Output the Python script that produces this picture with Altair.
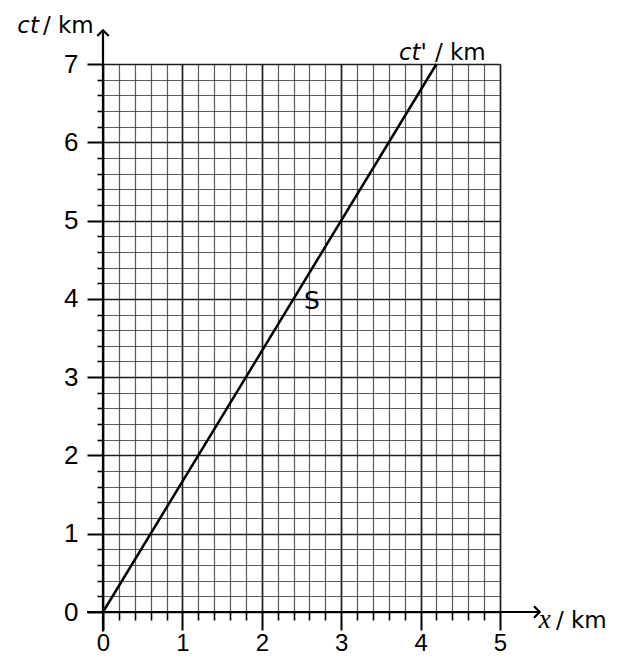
import altair as alt
import pandas as pd

# --- data -------------------------------------------------------------
x_ticks = [0, 0.2, 0.4, 0.6, 0.8, 1, 1.2, 1.4, 1.6, 1.8, 2, 2.2, 2.4, 2.6, 2.8,
           3, 3.2, 3.4, 3.6, 3.8, 4, 4.2, 4.4, 4.6, 4.8, 5]
y_ticks = [0, 0.2, 0.4, 0.6, 0.8, 1, 1.2, 1.4, 1.6, 1.8, 2, 2.2, 2.4, 2.6, 2.8,
           3, 3.2, 3.4, 3.6, 3.8, 4, 4.2, 4.4, 4.6, 4.8, 5, 5.2, 5.4, 5.6, 5.8,
           6, 6.2, 6.4, 6.6, 6.8, 7]

worldline_x = [0, 4.2]
worldline_ct = [0, 7]

event_label = ["S"]
event_x = [2.63]
event_ct = [3.97]

# axis arrows (axis lines extend past the grid)
axis_x0 = [-0.2, 0]
axis_x1 = [5.5, 0]
axis_y0 = [0, -0.25]
axis_y1 = [0, 7.43]
arrow_x = [5.5, 0]
arrow_y = [0, 7.43]
arrow_shape = ["M -1 -1 L 0 0 L -1 1", "M -1 1 L 0 0 L 1 1"]

# axis titles: italic symbol (right-aligned at its end) + upright unit (left-aligned)
sym_text = ["ct", "x", "ct'"]
sym_x = [-0.806, 5.64, 4.08]
sym_y = [7.39, -0.2, 7.05]
sym_font = ["DejaVu Sans", "Liberation Serif", "DejaVu Sans"]
unit_text = ["/ km", "/ km", "/ km"]
unit_x = [-0.756, 5.705, 4.18]
unit_y = [7.39, -0.2, 7.05]

# --- chart ------------------------------------------------------------
FONT = "Liberation Sans"
TFONT = "DejaVu Sans"
major = "abs(datum.value - round(datum.value)) < 0.001"

xscale = alt.Scale(domain=[0, 5], nice=False, zero=False)
yscale = alt.Scale(domain=[0, 7], nice=False, zero=False)

grid_common = dict(
    grid=True, domain=False, tickCount=200,
    labelExpr=f"{major} ? format(datum.value, 'd') : ''",
    labelFont=FONT, labelColor="black",
    labelFlush=False, labelOverlap=False,
    tickColor="black",
    tickWidth={"condition": {"test": major, "value": 2}, "value": 1.6},
    gridColor={"condition": {"test": major, "value": "#111111"}, "value": "#333333"},
    gridWidth={"condition": {"test": major, "value": 1.7}, "value": 1.2},
    gridOpacity={"condition": {"test": major, "value": 0.95}, "value": 0.8},
)

x_axis = alt.Axis(
    values=x_ticks, title=None, labelPadding=1, labelFontSize=24,
    tickSize={"condition": {"test": major, "value": 18}, "value": 8},
    **grid_common,
)
y_axis = alt.Axis(
    values=y_ticks, title=None, labelPadding=9, labelFontSize=26,
    tickSize={"condition": {"test": major, "value": 16}, "value": 6},
    **grid_common,
)

line_df = pd.DataFrame({"x": worldline_x, "ct": worldline_ct})
worldline = alt.Chart(line_df).mark_line(color="black", strokeWidth=2.5, clip=False).encode(
    x=alt.X("x:Q", scale=xscale, axis=x_axis),
    y=alt.Y("ct:Q", scale=yscale, axis=y_axis),
)

axes_df = pd.DataFrame({"x0": axis_x0, "x1": axis_x1, "y0": axis_y0, "y1": axis_y1})
axes_lines = alt.Chart(axes_df).mark_rule(color="black", strokeWidth=2.2, clip=False).encode(
    x=alt.X("x0:Q", scale=xscale), x2="x1:Q",
    y=alt.Y("y0:Q", scale=yscale), y2="y1:Q",
)

arrows_df = pd.DataFrame({"x": arrow_x, "y": arrow_y, "shape": arrow_shape})
arrows = alt.Chart(arrows_df).mark_point(
    filled=False, color="black", strokeWidth=2.2, size=130, opacity=1, clip=False
).encode(
    x=alt.X("x:Q", scale=xscale), y=alt.Y("y:Q", scale=yscale),
    shape=alt.Shape("shape:N", scale=None),
)

event_df = pd.DataFrame({"x": event_x, "ct": event_ct, "label": event_label})
event = alt.Chart(event_df).mark_text(
    font=TFONT, fontSize=25, color="black", align="center", baseline="middle", clip=False
).encode(x=alt.X("x:Q", scale=xscale), y=alt.Y("ct:Q", scale=yscale), text="label:N")

sym_df = pd.DataFrame({"x": sym_x, "y": sym_y, "text": sym_text, "font": sym_font})
sym_layers = []
for f in sorted(set(sym_font)):
    sub = sym_df[sym_df["font"] == f]
    sym_layers.append(
        alt.Chart(sub).mark_text(
            font=f, fontSize=27 if "Serif" in f else 23, fontStyle="italic", color="black",
            align="right", baseline="alphabetic", clip=False,
        ).encode(x=alt.X("x:Q", scale=xscale), y=alt.Y("y:Q", scale=yscale), text="text:N")
    )

unit_df = pd.DataFrame({"x": unit_x, "y": unit_y, "text": unit_text})
units = alt.Chart(unit_df).mark_text(
    font=TFONT, fontSize=23, color="black", align="left", baseline="alphabetic", clip=False,
).encode(x=alt.X("x:Q", scale=xscale), y=alt.Y("y:Q", scale=yscale), text="text:N")

chart = alt.layer(worldline, axes_lines, arrows, event, units, *sym_layers).properties(
    width=397, height=548,
    autosize=alt.AutoSizeParams(type="none"),
    padding={"left": 95, "top": 56, "right": 113, "bottom": 46},
).configure_view(stroke=None).configure(background="white")

chart.save("out.html", embed_options={"renderer": "svg", "actions": False})
